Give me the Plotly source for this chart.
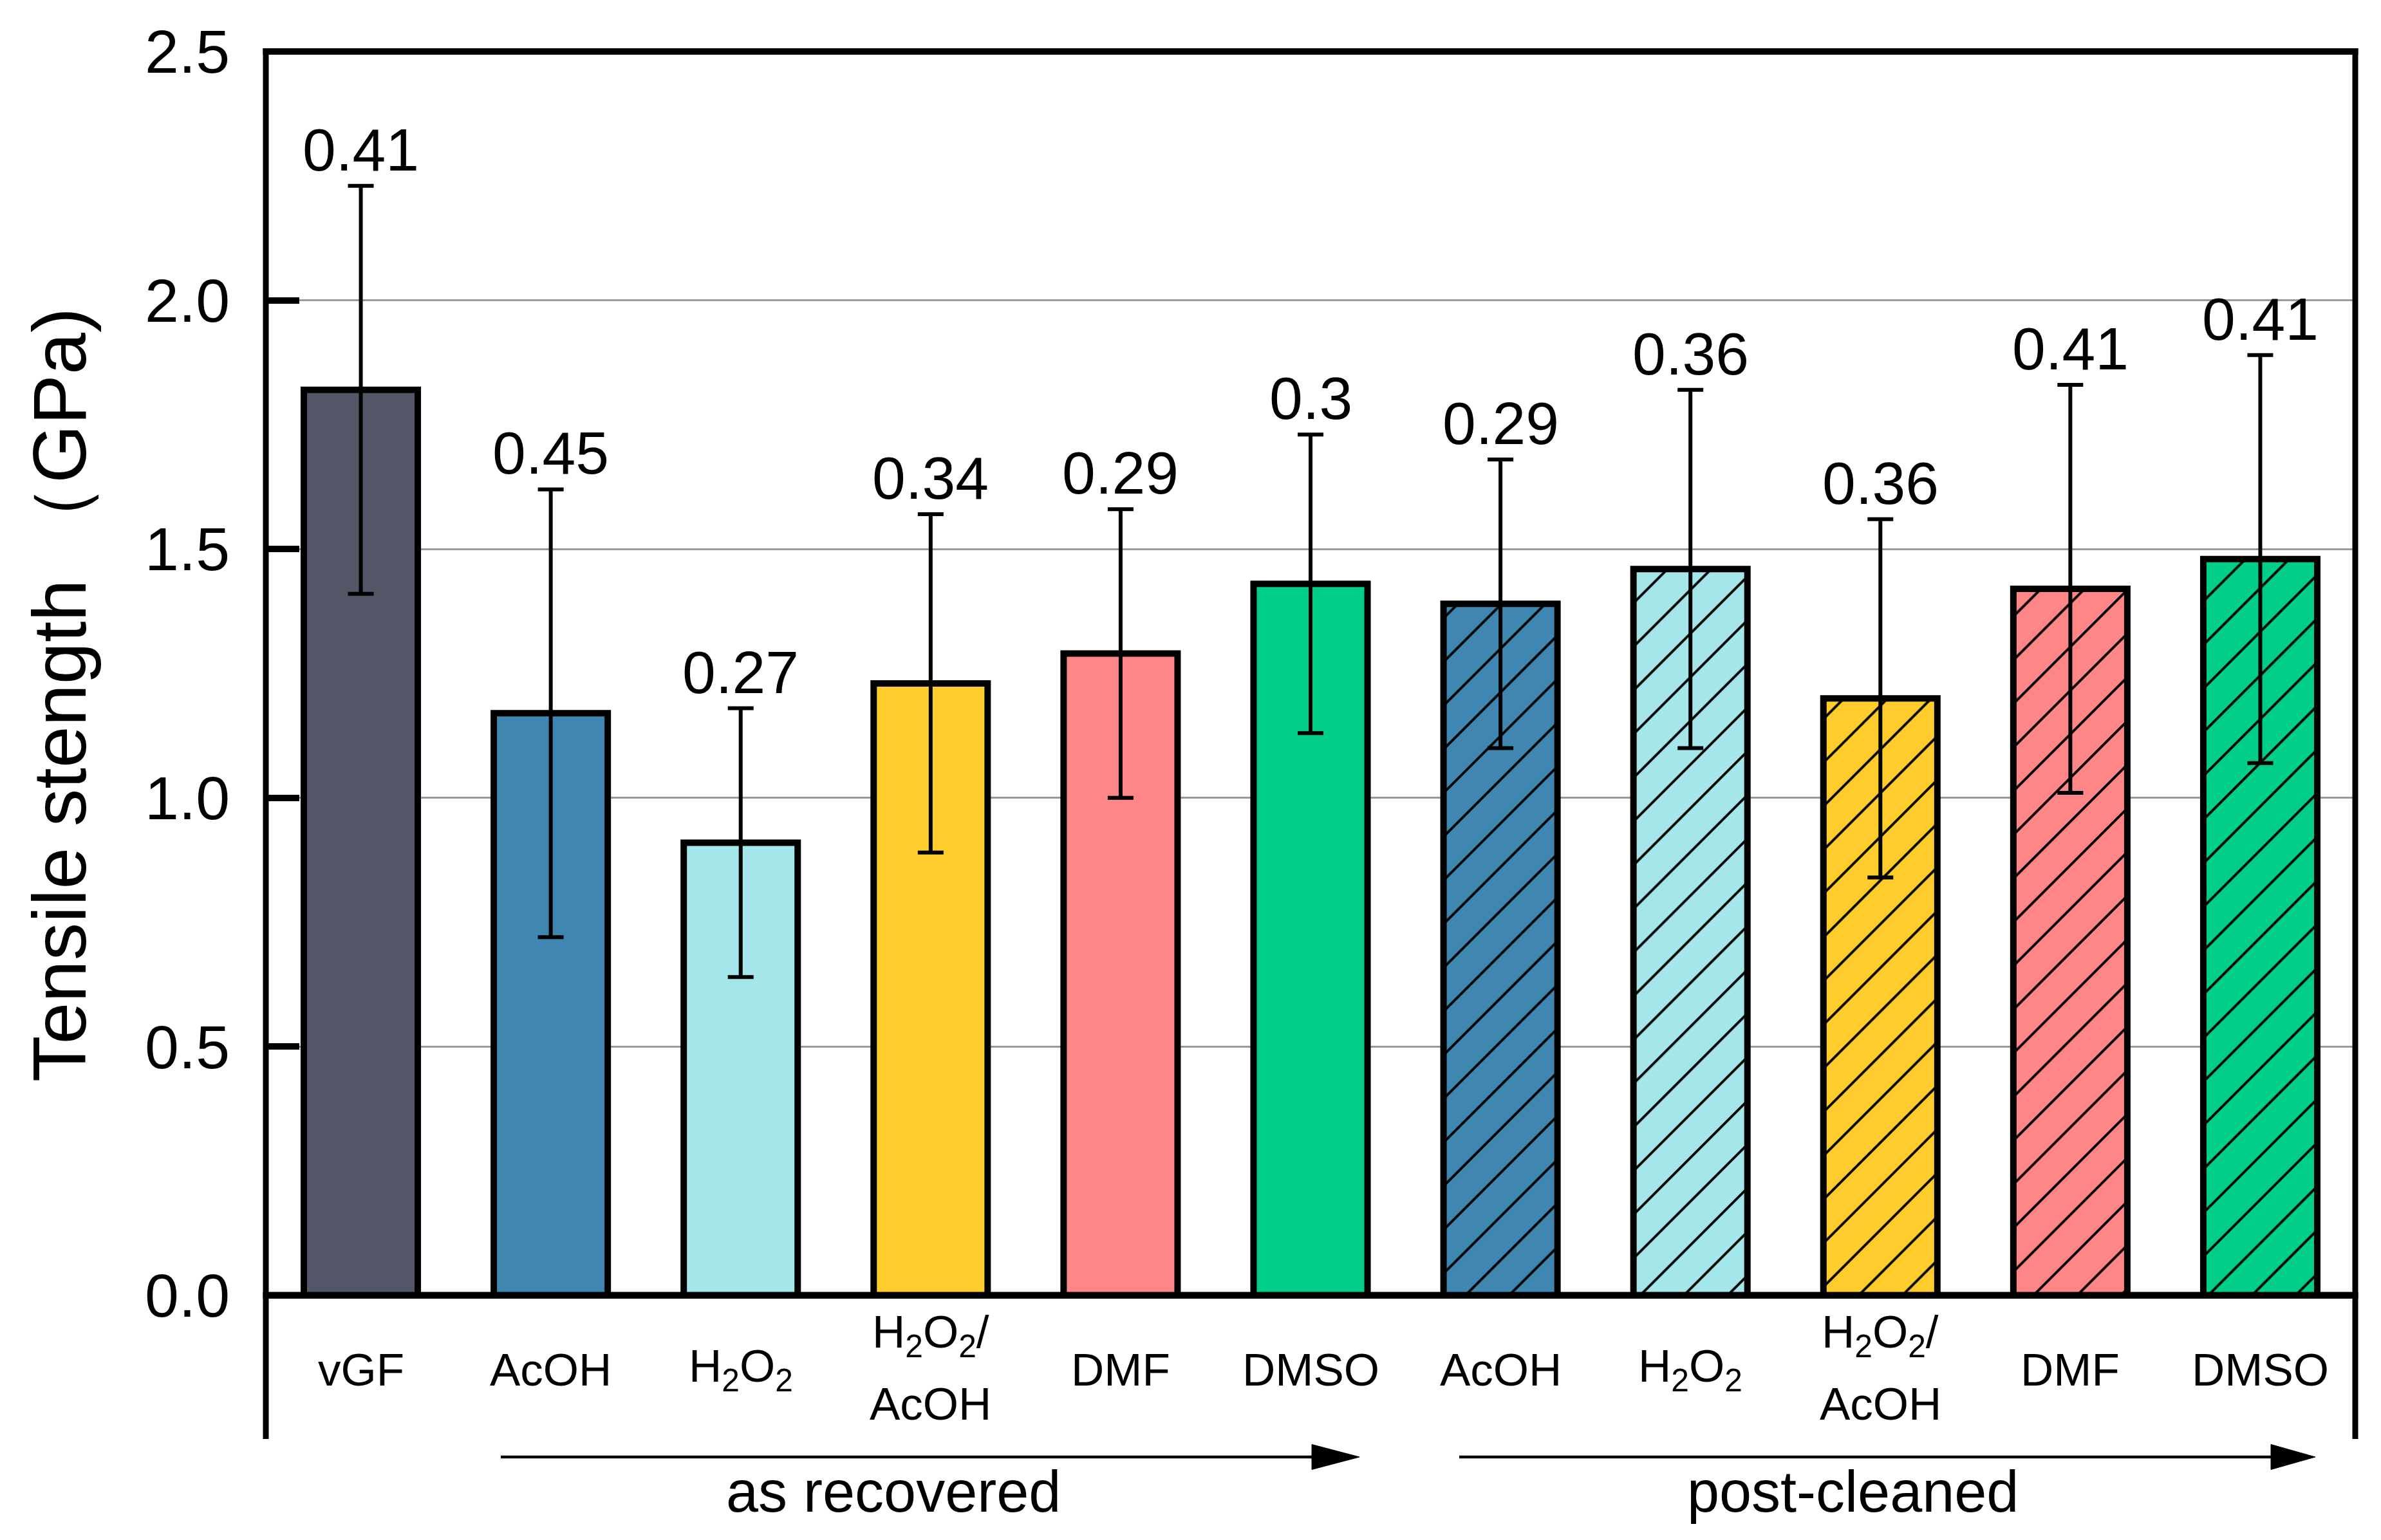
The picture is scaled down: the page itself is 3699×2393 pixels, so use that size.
import plotly.graph_objects as go

# ---------------- data ----------------
labels = ["vGF", "AcOH", "H<sub>2</sub>O<sub>2</sub>", "H<sub>2</sub>O<sub>2</sub>/<br>AcOH", "DMF", "DMSO",
          "AcOH", "H<sub>2</sub>O<sub>2</sub>", "H<sub>2</sub>O<sub>2</sub>/<br>AcOH", "DMF", "DMSO"]
strength = [1.82, 1.17, 0.91, 1.23, 1.29, 1.43, 1.39, 1.46, 1.20, 1.42, 1.48]
errors = [0.41, 0.45, 0.27, 0.34, 0.29, 0.30, 0.29, 0.36, 0.36, 0.41, 0.41]
error_text = ["0.41", "0.45", "0.27", "0.34", "0.29", "0.3", "0.29", "0.36", "0.36", "0.41", "0.41"]
colors = ["#525667", "#3F87B0", "#A4E6EA", "#FFCC2E", "#FF8686", "#00CE8A",
          "#3F87B0", "#A4E6EA", "#FFCC2E", "#FF8686", "#00CE8A"]
hatch = ["", "", "", "", "", "", "/", "/", "/", "/", "/"]
group_names = ["as recovered", "post-cleaned"]
y_ticks = [0.0, 0.5, 1.0, 1.5, 2.0, 2.5]
y_title = "Tensile stength （GPa)"

# ---------------- layout geometry (page pixels) ----------------
OFF = 8                       # default body margin of the html page
PAGE_W, PAGE_H = 3699, 2393
W, H = PAGE_W - OFF, PAGE_H - OFF
PX0, PX1 = 413, 3659          # page x of plot-area edges (x = -0.5 .. 10.5)
PY_TOP, PY_BOT = 75, 2018     # page y of plot-area edges
Y_ZERO_PX, Y_TOP_PX = 2013, 80
unit = (Y_ZERO_PX - Y_TOP_PX) / 2.5
y_range = [-(PY_BOT - Y_ZERO_PX) / unit, 2.5 + (Y_TOP_PX - PY_TOP) / unit]

L = PX0 - OFF
R = W - (PX1 - OFF)
T = PY_TOP - OFF
B = H - (PY_BOT - OFF)


def pxx(px):
    return (px - PX0) / (PX1 - PX0)


def pxy(py):
    return (PY_BOT - py) / (PY_BOT - PY_TOP)


FONT = "Liberation Sans, Arial, sans-serif"

fig = go.Figure()
for i, (s, e, c, h) in enumerate(zip(strength, errors, colors, hatch)):
    fig.add_trace(go.Bar(
        x=[i], y=[s], width=0.6,
        marker=dict(color=c, line=dict(color="black", width=10),
                    pattern=dict(shape=h, fgcolor="black", bgcolor=c, size=48, solidity=0.08,
                                 fillmode="replace", fgopacity=1)),
        error_y=dict(type="data", array=[e], visible=True, color="black",
                     thickness=6, width=20),
        showlegend=False, hoverinfo="skip",
    ))

annotations = []
# value labels above error bars
for i, (s, e, t) in enumerate(zip(strength, errors, error_text)):
    annotations.append(dict(x=i, y=s + e, xref="x", yref="y", text=t, showarrow=False,
                            yanchor="bottom", xanchor="center", yshift=2,
                            font=dict(family=FONT, size=93, color="black")))

# category labels below the zero line
for i, lab in enumerate(labels):
    parts = lab.split("<br>")
    offs = [0] if len(parts) == 1 else [-53.5, 53.5]
    for p, o in zip(parts, offs):
        annotations.append(dict(x=i, y=pxy(2128 + o), xref="x", yref="paper", text=p,
                                showarrow=False, xanchor="center", yanchor="middle",
                                font=dict(family=FONT, size=71, color="black")))

# group labels
for name, cx in zip(group_names, (1388, 2878)):
    annotations.append(dict(x=pxx(cx), y=pxy(2318), xref="paper", yref="paper", text=name,
                            showarrow=False, xanchor="center", yanchor="middle",
                            font=dict(family=FONT, size=90, color="black")))

# y-axis title
annotations.append(dict(x=pxx(92), y=pxy(1080), xref="paper", yref="paper", text=y_title,
                        textangle=-90, showarrow=False, xanchor="center", yanchor="middle",
                        font=dict(family=FONT, size=117, color="black")))

shapes = []
# frame: top line, thick zero line, left/right lines extending below zero
shapes.append(dict(type="line", xref="paper", yref="y", x0=pxx(PX0 - 4.5), x1=pxx(PX1 + 4.5),
                   y0=2.5, y1=2.5, line=dict(color="black", width=10)))
shapes.append(dict(type="line", xref="paper", yref="y", x0=pxx(PX0 - 4.5), x1=pxx(PX1 + 4.5),
                   y0=0, y1=0, line=dict(color="black", width=11)))
for px in (PX0, PX1):
    shapes.append(dict(type="line", xref="paper", yref="paper", x0=pxx(px), x1=pxx(px),
                       y0=pxy(2236), y1=pxy(Y_TOP_PX - 5), line=dict(color="black", width=9)))

# group arrows
for (xs, xh, xt) in [(778, 2038, 2112), (2267, 3528, 3597)]:
    yy = 2264
    shapes.append(dict(type="line", xref="paper", yref="paper", x0=pxx(xs), x1=pxx(xh + 5),
                       y0=pxy(yy), y1=pxy(yy), line=dict(color="black", width=4.5)))
    path = "M {} {} L {} {} L {} {} Z".format(pxx(xh), pxy(yy - 19.5), pxx(xt), pxy(yy),
                                              pxx(xh), pxy(yy + 19.5))
    shapes.append(dict(type="path", xref="paper", yref="paper", path=path,
                       fillcolor="black", line=dict(color="black", width=1)))

fig.update_layout(
    width=W, height=H,
    barmode="overlay",
    margin=dict(l=L, r=R, t=T, b=B, pad=0),
    paper_bgcolor="white", plot_bgcolor="white",
    font=dict(family=FONT, color="black"),
    xaxis=dict(range=[-0.5, len(labels) - 0.5], showticklabels=False, ticks="",
               showgrid=False, zeroline=False, showline=False, fixedrange=True),
    yaxis=dict(range=y_range, tickvals=y_ticks, ticktext=["{:.1f}".format(v) for v in y_ticks],
               ticks="inside", ticklen=52, tickwidth=10, tickcolor="black",
               tickfont=dict(family=FONT, size=95, color="black"),
               showgrid=True, gridcolor="#9a9a9a", gridwidth=3,
               zeroline=False, showline=False,
               ticklabelstandoff=55, fixedrange=True),
    annotations=annotations,
    shapes=shapes,
)

fig.write_html("out.html")
